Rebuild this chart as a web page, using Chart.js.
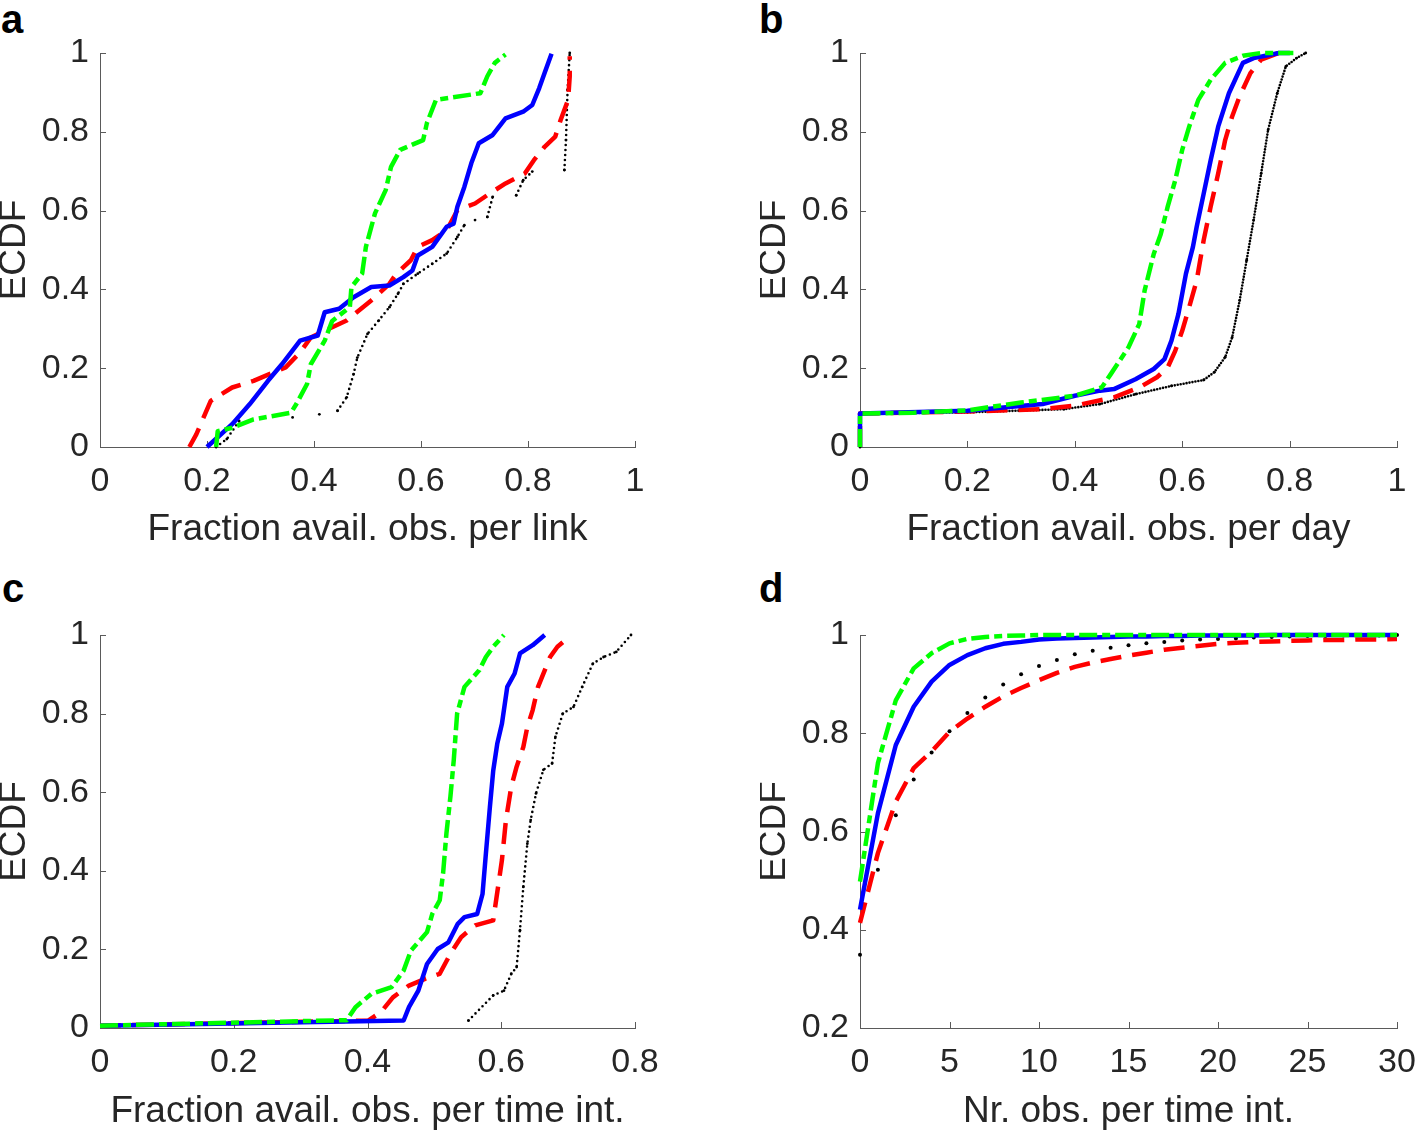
<!DOCTYPE html>
<html>
<head>
<meta charset="utf-8">
<script src="https://cdn.jsdelivr.net/npm/chart.js@4.4.0/dist/chart.umd.min.js"></script>
<style>
  body { margin: 0; background: #fff; width: 1415px; height: 1130px; position: relative; overflow: hidden; }
  canvas { position: absolute; }
  .tag { position: absolute; font: bold 40px "Liberation Sans", Arial, sans-serif; line-height: 1; color: #000; }
</style>
</head>
<body>
<div class="tag" style="left:1px;top:-1px">a</div>
<div class="tag" style="left:759px;top:-1px">b</div>
<div class="tag" style="left:2px;top:568px">c</div>
<div class="tag" style="left:759px;top:568px">d</div>
<canvas id="chartA" width="707" height="548" style="left:0;top:0"></canvas>
<canvas id="chartB" width="680" height="548" style="left:760px;top:0"></canvas>
<canvas id="chartC" width="707" height="548" style="left:0;top:582px"></canvas>
<canvas id="chartD" width="680" height="548" style="left:760px;top:582px"></canvas>
<script>
// tick labels
const ticksUnit = [0, 0.2, 0.4, 0.6, 0.8, 1];
const ticksC = [0, 0.2, 0.4, 0.6, 0.8];
const ticksDX = [0, 5, 10, 15, 20, 25, 30];
const ticksDY = [0.2, 0.4, 0.6, 0.8, 1];

// panel a: [fraction, ECDF]  (null = gap between marker runs)
const aGreen = [[0.217,0],[0.22,0.04],[0.247,0.049],[0.287,0.07],[0.357,0.087],[0.367,0.109],[0.387,0.16],[0.394,0.21],[0.42,0.27],[0.434,0.32],[0.467,0.355],[0.47,0.406],[0.49,0.44],[0.497,0.508],[0.514,0.593],[0.534,0.652],[0.544,0.711],[0.561,0.754],[0.604,0.779],[0.611,0.822],[0.628,0.881],[0.711,0.898],[0.724,0.941],[0.738,0.975],[0.758,0.996]];
const aBlue = [[0.2,0],[0.247,0.058],[0.28,0.109],[0.314,0.168],[0.34,0.21],[0.374,0.27],[0.407,0.283],[0.42,0.342],[0.447,0.351],[0.474,0.38],[0.507,0.406],[0.541,0.41],[0.567,0.431],[0.584,0.448],[0.594,0.486],[0.621,0.508],[0.648,0.559],[0.661,0.567],[0.668,0.61],[0.681,0.66],[0.694,0.72],[0.708,0.771],[0.734,0.792],[0.758,0.834],[0.791,0.851],[0.808,0.868],[0.821,0.911],[0.831,0.949],[0.844,0.998]];
const aRed = [[0.167,0],[0.18,0.032],[0.207,0.117],[0.247,0.151],[0.287,0.168],[0.347,0.202],[0.374,0.24],[0.394,0.278],[0.434,0.304],[0.461,0.321],[0.507,0.372],[0.541,0.414],[0.554,0.44],[0.581,0.474],[0.594,0.508],[0.621,0.525],[0.648,0.55],[0.668,0.601],[0.701,0.618],[0.728,0.643],[0.758,0.669],[0.794,0.694],[0.811,0.728],[0.831,0.762],[0.851,0.788],[0.861,0.83],[0.875,0.881],[0.878,0.941],[0.878,0.992]];
const aBlack = [[0.217,0],[0.237,0.02],[0.26,0.066],null,[0.36,0.075],null,[0.41,0.083],null,[0.444,0.092],[0.461,0.126],[0.474,0.185],[0.481,0.227],[0.5,0.287],[0.521,0.321],[0.541,0.355],[0.557,0.389],[0.567,0.414],[0.594,0.44],[0.621,0.465],[0.648,0.491],[0.668,0.533],[0.681,0.563],null,[0.701,0.576],null,[0.724,0.584],[0.734,0.635],null,[0.778,0.639],[0.791,0.677],[0.808,0.699],null,[0.868,0.703],[0.871,0.779],[0.874,0.907],[0.878,1]];

// panel b
const bGreen = [[0,0],[0,0.085],[0.1,0.087],[0.2,0.093],[0.3,0.113],[0.4,0.13],[0.45,0.151],[0.467,0.185],[0.5,0.253],[0.52,0.312],[0.53,0.397],[0.547,0.49],[0.56,0.54],[0.573,0.61],[0.587,0.677],[0.6,0.754],[0.613,0.813],[0.63,0.881],[0.653,0.932],[0.68,0.975],[0.713,0.993],[0.747,1],[0.807,1]];
const bBlue = [[0,0],[0,0.085],[0.2,0.092],[0.34,0.109],[0.4,0.13],[0.447,0.143],[0.473,0.147],[0.513,0.172],[0.547,0.198],[0.567,0.223],[0.58,0.27],[0.593,0.338],[0.607,0.44],[0.62,0.508],[0.627,0.559],[0.64,0.643],[0.653,0.728],[0.667,0.813],[0.687,0.898],[0.713,0.975],[0.733,0.987],[0.78,1],[0.8,1]];
const bRed = [[0,0],[0,0.085],[0.2,0.09],[0.34,0.096],[0.4,0.105],[0.473,0.126],[0.52,0.151],[0.553,0.177],[0.573,0.202],[0.587,0.244],[0.6,0.295],[0.613,0.355],[0.627,0.423],[0.64,0.525],[0.653,0.61],[0.667,0.694],[0.68,0.779],[0.693,0.839],[0.707,0.89],[0.727,0.949],[0.747,0.983],[0.78,1],[0.8,1]];
const bBlack = [[0,0],[0,0.085],[0.2,0.088],[0.38,0.096],[0.447,0.109],[0.513,0.134],[0.58,0.155],[0.64,0.17],[0.66,0.19],[0.68,0.228],[0.693,0.278],[0.707,0.372],[0.72,0.474],[0.733,0.576],[0.747,0.694],[0.76,0.805],[0.777,0.898],[0.793,0.966],[0.813,0.987],[0.83,1]];

// panel c
const cGreen = [[0,0.006],[0.369,0.02],[0.382,0.053],[0.406,0.087],[0.436,0.104],[0.454,0.146],[0.465,0.197],[0.489,0.244],[0.497,0.291],[0.508,0.325],[0.513,0.393],[0.518,0.495],[0.524,0.589],[0.529,0.682],[0.534,0.8],[0.545,0.868],[0.567,0.91],[0.577,0.944],[0.588,0.97],[0.604,1]];
const cBlue = [[0,0.006],[0.454,0.019],[0.462,0.053],[0.476,0.095],[0.489,0.163],[0.505,0.201],[0.521,0.218],[0.535,0.265],[0.545,0.282],[0.564,0.29],[0.572,0.341],[0.577,0.443],[0.583,0.562],[0.588,0.655],[0.594,0.723],[0.601,0.774],[0.609,0.868],[0.62,0.902],[0.628,0.953],[0.647,0.974],[0.665,1]];
const cRed = [[0,0.006],[0.401,0.019],[0.42,0.04],[0.438,0.078],[0.462,0.108],[0.486,0.125],[0.508,0.138],[0.524,0.189],[0.54,0.231],[0.561,0.261],[0.588,0.274],[0.593,0.333],[0.601,0.427],[0.607,0.529],[0.615,0.614],[0.623,0.665],[0.633,0.715],[0.639,0.766],[0.647,0.809],[0.655,0.868],[0.665,0.91],[0.673,0.944],[0.684,0.97],[0.703,0.997]];
const cBlack = [[0.551,0.019],[0.588,0.083],[0.604,0.095],[0.615,0.138],[0.623,0.155],[0.628,0.249],[0.633,0.359],[0.639,0.469],[0.644,0.529],[0.652,0.597],[0.663,0.657],[0.676,0.673],[0.681,0.741],[0.692,0.8],[0.708,0.817],[0.721,0.868],[0.737,0.927],[0.753,0.944],[0.772,0.957],[0.794,1]];

// panel d: number of observations 0..30
const dX = [0,1,2,3,4,5,6,7,8,9,10,11,12,13,14,15,16,17,18,19,20,21,22,23,24,25,26,27,28,29,30];
const dGreen = [0.498,0.739,0.867,0.932,0.963,0.983,0.992,0.996,0.998,0.999,1,1,1,1,1,1,1,1,1,1,1,1,1,1,1,1,1,1,1,1,1];
const dBlue = [0.441,0.637,0.776,0.854,0.905,0.939,0.959,0.973,0.982,0.986,0.991,0.993,0.994,0.995,0.996,0.997,0.997,0.998,0.998,0.999,0.999,0.999,0.999,1,1,1,1,1,1,1,1];
const dRed = [0.414,0.556,0.661,0.729,0.763,0.803,0.83,0.854,0.875,0.892,0.908,0.923,0.935,0.944,0.951,0.958,0.964,0.97,0.974,0.978,0.982,0.984,0.986,0.987,0.988,0.989,0.99,0.99,0.991,0.991,0.992];
const dBlack = [0.349,0.522,0.633,0.706,0.761,0.804,0.841,0.873,0.899,0.92,0.937,0.949,0.961,0.968,0.974,0.979,0.983,0.986,0.989,0.991,0.992,0.993,0.995,0.996,0.997,0.998,0.998,0.999,0.999,0.999,1];

const axisColor = '#5a5a5a';
const labelColor = '#262626';
const fam = '"Liberation Sans", Arial, Helvetica, sans-serif';

// turn [x,y] pairs into points, null -> gap
function toPoints(pairs) {
  let lastX = 0;
  return pairs.map(p => {
    if (!p) return { x: lastX, y: null };
    lastX = p[0];
    return { x: p[0], y: p[1] };
  });
}

function line(pairs, color, dash) {
  return { data: toPoints(pairs), borderColor: color, borderWidth: 4.5, borderDash: dash,
    borderCapStyle: 'butt', borderJoinStyle: 'round', pointRadius: 0, tension: 0, clip: false };
}

function dots(pairs, gap) {
  return { data: toPoints(pairs), borderColor: '#000', borderWidth: 2.6, borderDash: [0, gap],
    borderCapStyle: 'round', pointRadius: 1.4, pointBorderWidth: 0, pointBackgroundColor: '#000',
    tension: 0, clip: false };
}

// MATLAB style ticks pointing into the plot
const inwardTicks = {
  id: 'inwardTicks',
  beforeDatasetsDraw(chart) {
    const { ctx, chartArea, scales } = chart;
    ctx.save();
    ctx.strokeStyle = axisColor;
    ctx.lineWidth = 1;
    ctx.beginPath();
    scales.x.ticks.forEach((t, i) => {
      const px = Math.round(scales.x.getPixelForTick(i)) + 0.5;
      ctx.moveTo(px, chartArea.bottom);
      ctx.lineTo(px, chartArea.bottom - 6);
    });
    scales.y.ticks.forEach((t, i) => {
      const py = Math.round(scales.y.getPixelForTick(i)) + 0.5;
      ctx.moveTo(chartArea.left, py);
      ctx.lineTo(chartArea.left + 6, py);
    });
    ctx.stroke();
    ctx.restore();
  }
};

function makePanel(id, datasets, xRange, xTicks, yRange, yTicks, xTitle, padRight, xHeight) {
  new Chart(document.getElementById(id), {
    type: 'line',
    data: { datasets: datasets },
    plugins: [inwardTicks],
    options: {
      responsive: false,
      animation: false,
      layout: { padding: { top: 53, right: padRight, left: 0, bottom: 0 } },
      plugins: { legend: { display: false }, tooltip: { enabled: false } },
      scales: {
        x: {
          type: 'linear', min: xRange[0], max: xRange[1],
          grid: { display: false, drawTicks: false },
          border: { color: axisColor, width: 1 },
          afterBuildTicks: s => { s.ticks = xTicks.map(v => ({ value: v })); },
          afterFit: s => { s.height = xHeight; },
          ticks: { padding: 14, color: labelColor, font: { family: fam, size: 34 }, maxRotation: 0, autoSkip: false,
            callback: v => String(v) },
          title: { display: true, text: xTitle, color: labelColor,
            font: { family: fam, size: 37, lineHeight: 0.8 }, padding: { top: 0, bottom: 3.5 } }
        },
        y: {
          type: 'linear', min: yRange[0], max: yRange[1],
          grid: { display: false, drawTicks: false },
          border: { color: axisColor, width: 1 },
          afterBuildTicks: s => { s.ticks = yTicks.map(v => ({ value: v })); },
          afterFit: s => { s.width = 100; },
          ticks: { padding: 11, color: labelColor, font: { family: fam, size: 34 }, autoSkip: false,
            callback: v => String(v) },
          title: { display: true, text: 'ECDF', color: labelColor,
            font: { family: fam, size: 37, lineHeight: 0.8 }, padding: { top: 0, bottom: 0 } }
        }
      }
    }
  });
}

const green = '#00ff00', blue = '#0000ff', red = '#ff0000';
const dashDot = [18, 5, 8, 5];
const dashed = [21, 11];

makePanel('chartA',
  [line(aGreen, green, dashDot), line(aBlue, blue, []), line(aRed, red, dashed), dots(aBlack, 5)],
  [0, 1], ticksUnit, [0, 1], ticksUnit, 'Fraction avail. obs. per link', 72, 101);

makePanel('chartB',
  [line(bGreen, green, dashDot), line(bBlue, blue, []), line(bRed, red, dashed), dots(bBlack, 3)],
  [0, 1], ticksUnit, [0, 1], ticksUnit, 'Fraction avail. obs. per day', 43, 101);

makePanel('chartC',
  [line(cGreen, green, dashDot), line(cBlue, blue, []), line(cRed, red, dashed), dots(cBlack, 5)],
  [0, 0.8], ticksC, [0, 1], ticksUnit, 'Fraction avail. obs. per time int.', 72, 102);

const dPairs = ys => ys.map((y, i) => [dX[i], y]);
const dBlackSet = dots(dPairs(dBlack), 5);
dBlackSet.showLine = false;
dBlackSet.pointRadius = 2;
makePanel('chartD',
  [line(dPairs(dGreen), green, dashDot), line(dPairs(dBlue), blue, []), line(dPairs(dRed), red, dashed), dBlackSet],
  [0, 30], ticksDX, [0.2, 1], ticksDY, 'Nr. obs. per time int.', 43, 102);
</script>
</body>
</html>
